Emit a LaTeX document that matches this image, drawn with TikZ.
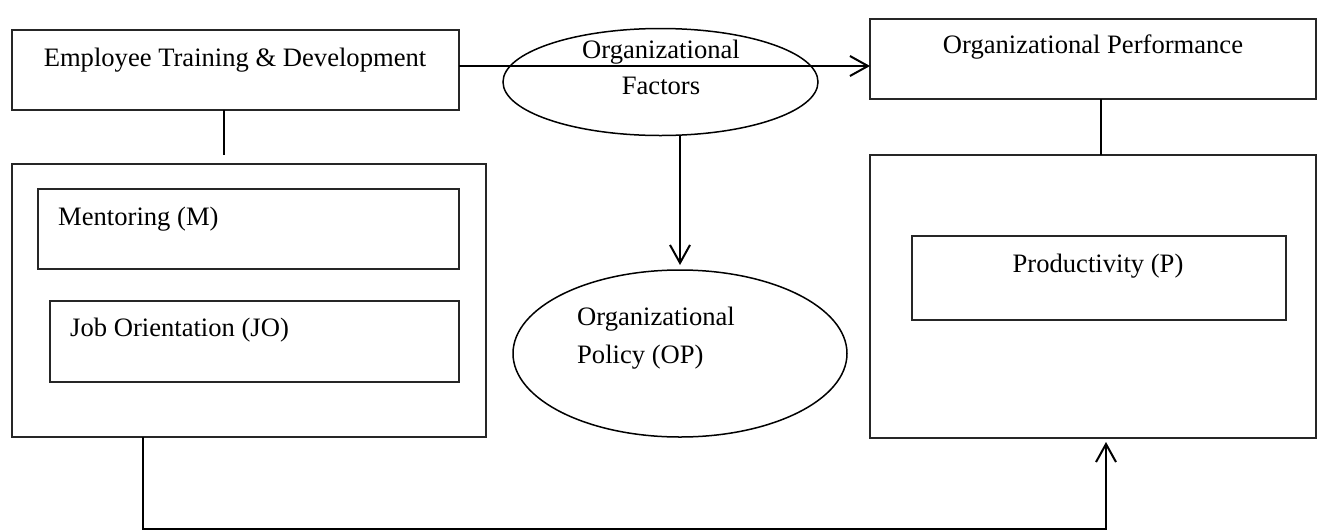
\documentclass[tikz,border=0pt]{standalone}
\usepackage{fontspec}
\setmainfont{Liberation Serif}
\usetikzlibrary{arrows.meta,shapes.geometric,calc}
\begin{document}
\begin{tikzpicture}[x=1pt,y=-1pt,
  box/.style={draw=black!85,line width=1.4pt,rectangle,inner sep=0pt,outer sep=0pt},
  oval/.style={draw=black,line width=1.5pt,ellipse,inner sep=0pt,outer sep=0pt},
  lbl/.style={font=\fontsize{26.6}{30}\selectfont,inner sep=0pt,anchor=base},
  lbll/.style={lbl,anchor=base west},
  conn/.style={line width=2pt},
  arr/.style={conn,-{Straight Barb[length=18pt,width=20pt,line width=2pt]}}]
\useasboundingbox (0,0) rectangle (1317,531);
% boxes
\node[box,minimum width=447pt,minimum height=80pt] (etd) at (235.5,70) {};
\node[box,minimum width=474pt,minimum height=273pt] (lbig) at (249,300.5) {};
\node[box,minimum width=421pt,minimum height=80pt] (ment) at (248.5,229) {};
\node[box,minimum width=409pt,minimum height=81pt] (jo) at (254.5,341.5) {};
\node[box,minimum width=446pt,minimum height=80pt] (op) at (1093,59) {};
\node[box,minimum width=446pt,minimum height=283pt] (rbig) at (1093,296.5) {};
\node[box,minimum width=374pt,minimum height=84pt] (prod) at (1099,278) {};
\node[oval,minimum width=315pt,minimum height=107pt] (of) at (660.5,82) {};
\node[oval,minimum width=334pt,minimum height=167pt] (opol) at (680,353.5) {};
% texts
\node[lbl] (tetd) at (235,66) {Employee Training \& Development};
\node[lbl] (tof1) at (661,58) {Organizational};
\node[lbl] (tof2) at (661,94) {Factors};
\node[lbl] (top) at (1093,53) {Organizational Performance};
\node[lbll] (tment) at (58,225) {Mentoring (M)};
\node[lbll] (tjo) at (70,336) {Job Orientation (JO)};
\node[lbl] (tprod) at (1098,272) {Productivity (P)};
\node[lbll] (topol1) at (577,325) {Organizational};
\node[lbll] (topol2) at (577,363) {Policy (OP)};
% connector coordinates
\coordinate (h1) at ($(etd.north east)!0.45!(etd.south east)$);
\coordinate (ltop) at ([xshift=-11.5pt]etd.south);
\coordinate (lbot) at ([xshift=-11.5pt,yshift=-45pt]etd.south);
\coordinate (rtop) at ([xshift=8pt]op.south);
\coordinate (bstart) at ([xshift=-106pt]lbig.south);
\coordinate (bend) at ([xshift=13pt,yshift=-4pt]rbig.south);
% connectors
\draw[arr] (h1) -- (h1 -| op.west);
\draw[arr] (of.south -| opol.north) -- ([yshift=5pt]opol.north);
\draw[line width=1.5pt] (ltop) -- (lbot);
\draw[line width=1.5pt] (rtop) -- (rtop |- rbig.north);
\draw[arr] (bstart) -- ++(0,92) -| (bend);
\end{tikzpicture}
\end{document}
